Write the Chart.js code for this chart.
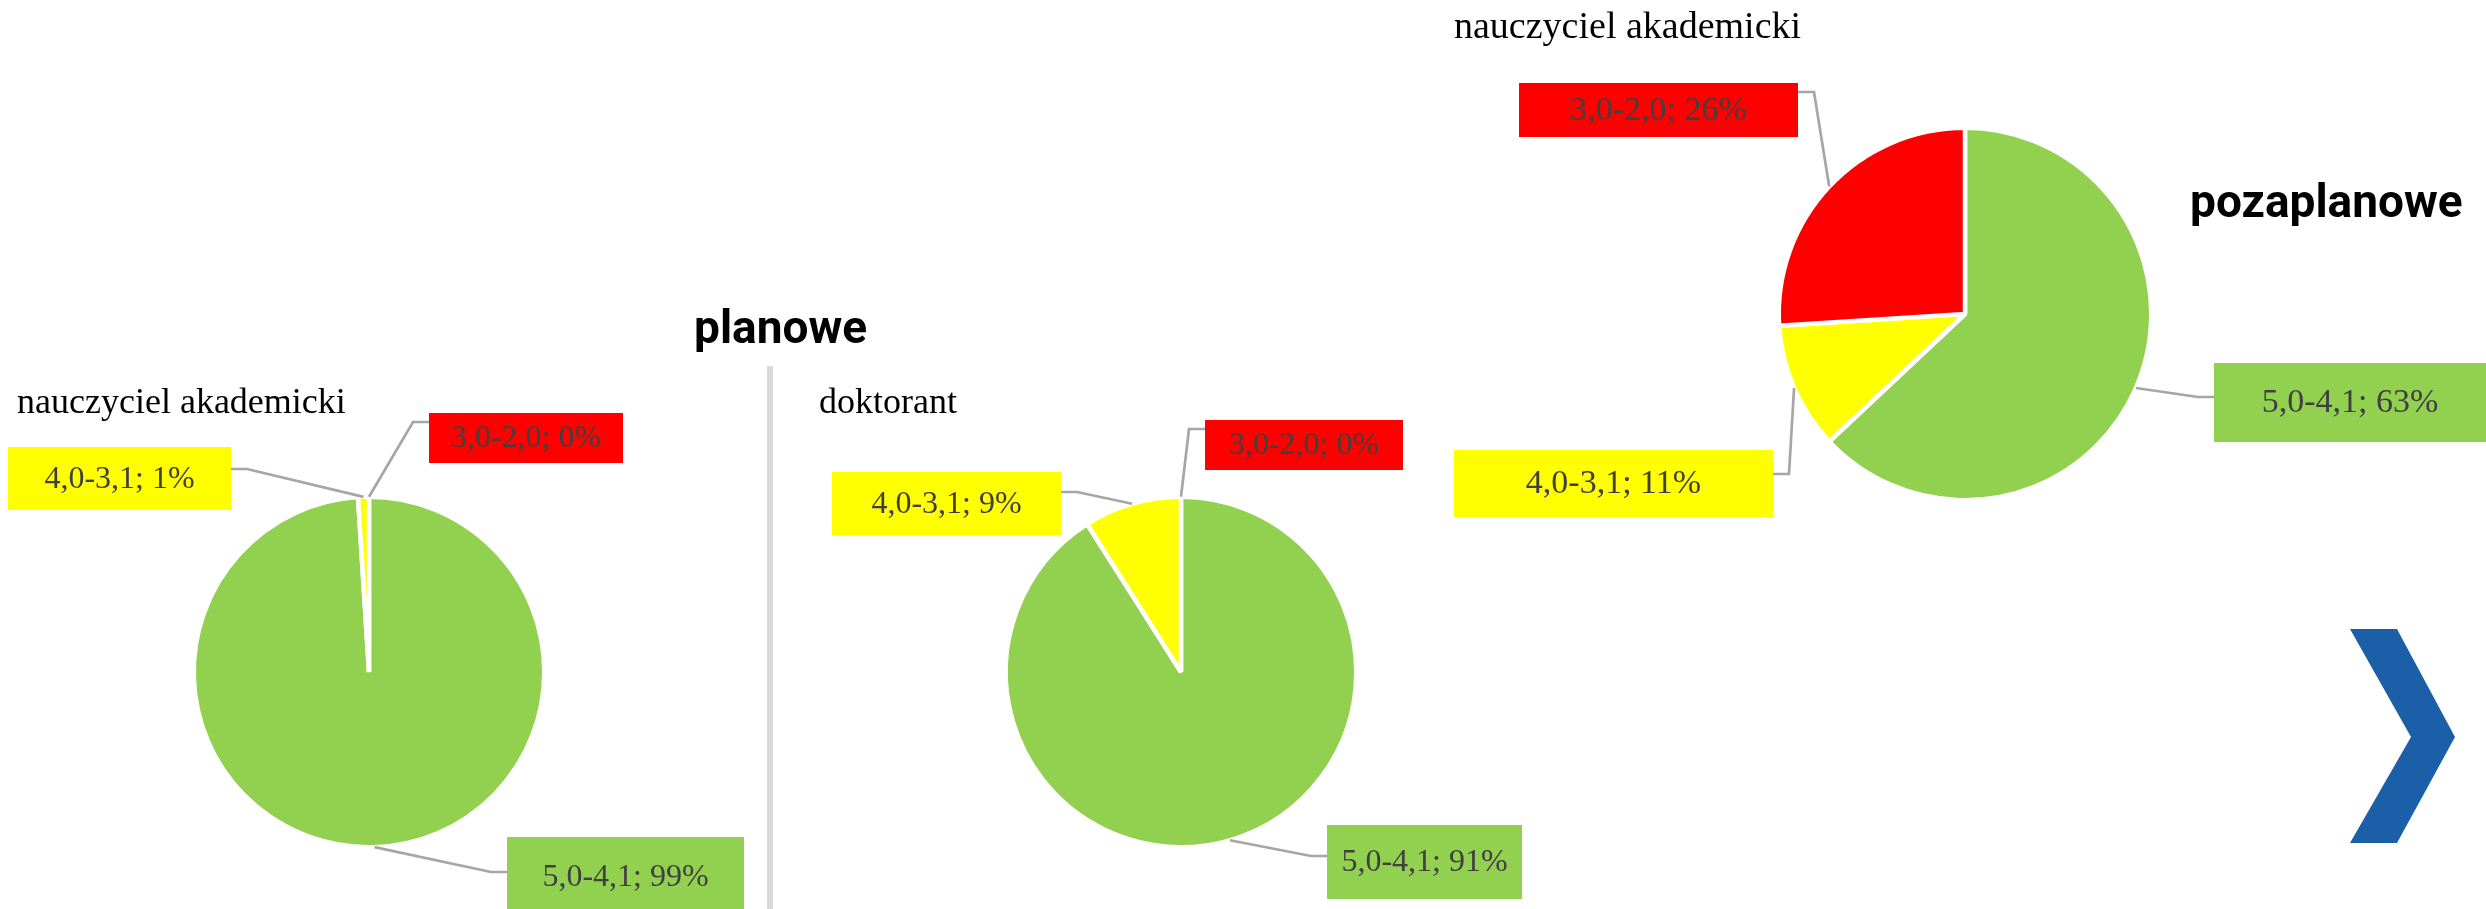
<!DOCTYPE html>
<html>
<head>
<meta charset="utf-8">
<script src="https://cdn.jsdelivr.net/npm/chart.js@4.4.1/dist/chart.umd.min.js"></script>
<style>
  html, body { margin: 0; padding: 0; background: #fff; }
  #page { position: relative; width: 2486px; height: 909px; overflow: hidden; }
  #page canvas { position: absolute; left: 0; top: 0; }
  .divider { position: absolute; left: 767px; top: 366px; width: 6px; height: 543px; background: #d9d9d9; }
  .next { position: absolute; left: 0; top: 0; }
</style>
</head>
<body>
<div id="page">
  <div class="divider"></div>
  <canvas id="c1" width="2486" height="909"></canvas>
  <canvas id="c2" width="2486" height="909"></canvas>
  <canvas id="c3" width="2486" height="909"></canvas>
  <svg class="next" width="2486" height="909">
    <polygon points="2350,629 2397,629 2455,737 2397,843 2350,843 2411,737" fill="#1a5fa8"/>
  </svg>
</div>
<script>
// data (percent)
const categories = ['5,0-4,1', '4,0-3,1', '3,0-2,0'];
const planoweNauczyciel = [99, 1, 0];
const planoweDoktorant = [91, 9, 0];
const pozaplanoweNauczyciel = [63, 11, 26];
const sliceColors = ['#92d050', '#ffff00', '#ff0000'];

const W = 2486, H = 909;
const BORDER = 4.5;

// where each pie and its callouts sit on the page
const pies = [
  {
    id: 'c1', values: planoweNauczyciel, cx: 369, cy: 672, r: 173, font: 32,
    title: { text: 'nauczyciel akademicki', x: 17, y: 413, size: 36 },
    heading: { text: 'planowe', x: 694, y: 343 },
    boxes: [
      { x: 507, y: 837, w: 237, h: 80, side: 'left', lineY: 872 },
      { x: 8, y: 447, w: 223, h: 63, side: 'right', lineY: 469 },
      { x: 429, y: 413, w: 194, h: 50, side: 'left', lineY: 422 }
    ]
  },
  {
    id: 'c2', values: planoweDoktorant, cx: 1181, cy: 672, r: 173, font: 32,
    title: { text: 'doktorant', x: 819, y: 413, size: 36 },
    boxes: [
      { x: 1327, y: 825, w: 195, h: 74, side: 'left', lineY: 856 },
      { x: 832, y: 472, w: 229, h: 63, side: 'right', lineY: 492 },
      { x: 1205, y: 420, w: 198, h: 50, side: 'left', lineY: 429 }
    ]
  },
  {
    id: 'c3', values: pozaplanoweNauczyciel, cx: 1965, cy: 314, r: 184, font: 34,
    title: { text: 'nauczyciel akademicki', x: 1454, y: 38, size: 38 },
    heading: { text: 'pozaplanowe', x: 2190, y: 217 },
    boxes: [
      { x: 2214, y: 363, w: 272, h: 79, side: 'left', lineY: 397 },
      { x: 1454, y: 450, w: 319, h: 67, side: 'right', lineY: 474 },
      { x: 1519, y: 83, w: 279, h: 54, side: 'right', lineY: 92 }
    ]
  }
];

const calloutPlugin = {
  id: 'callouts',
  afterDatasetsDraw(chart, args, opts) {
    const ctx = chart.ctx;
    const arcs = chart.getDatasetMeta(0).data;
    const values = chart.data.datasets[0].data;
    ctx.save();

    ctx.fillStyle = '#000';
    ctx.textAlign = 'left';
    ctx.textBaseline = 'alphabetic';
    ctx.font = `${opts.title.size}px "Liberation Serif"`;
    ctx.fillText(opts.title.text, opts.title.x, opts.title.y);
    if (opts.heading) {
      ctx.font = 'bold 46px Roboto';
      ctx.fillText(opts.heading.text, opts.heading.x, opts.heading.y);
    }

    arcs.forEach((arc, i) => {
      const b = opts.boxes[i];
      const mid = (arc.startAngle + arc.endAngle) / 2;
      const px = arc.x + Math.cos(mid) * arc.outerRadius;
      const py = arc.y + Math.sin(mid) * arc.outerRadius;
      const edgeX = b.side === 'left' ? b.x : b.x + b.w;
      const elbowX = b.side === 'left' ? edgeX - 16 : edgeX + 16;

      ctx.strokeStyle = '#a6a6a6';
      ctx.lineWidth = 2.7;
      ctx.beginPath();
      ctx.moveTo(px, py);
      ctx.lineTo(elbowX, b.lineY);
      ctx.lineTo(edgeX, b.lineY);
      ctx.stroke();

      ctx.fillStyle = sliceColors[i];
      ctx.fillRect(b.x, b.y, b.w, b.h);

      ctx.fillStyle = '#404040';
      ctx.font = `${opts.font}px "Liberation Serif"`;
      ctx.textAlign = 'center';
      ctx.textBaseline = 'middle';
      ctx.fillText(`${chart.data.labels[i]}; ${values[i]}%`, b.x + b.w / 2, b.y + b.h / 2 + 1);
    });
    ctx.restore();
  }
};

pies.forEach(p => {
  const ctx = document.getElementById(p.id).getContext('2d');
  new Chart(ctx, {
    type: 'pie',
    data: {
      labels: categories,
      datasets: [{
        data: p.values,
        backgroundColor: sliceColors,
        borderColor: '#ffffff',
        borderWidth: BORDER
      }]
    },
    options: {
      responsive: false,
      devicePixelRatio: 1,
      animation: false,
      radius: p.r + BORDER / 2,
      layout: {
        padding: {
          left: p.cx - p.r,
          right: W - (p.cx + p.r),
          top: p.cy - p.r,
          bottom: H - (p.cy + p.r)
        }
      },
      plugins: {
        legend: { display: false },
        tooltip: { enabled: false },
        callouts: { title: p.title, heading: p.heading, boxes: p.boxes, font: p.font }
      }
    },
    plugins: [calloutPlugin]
  });
});
</script>
</body>
</html>
